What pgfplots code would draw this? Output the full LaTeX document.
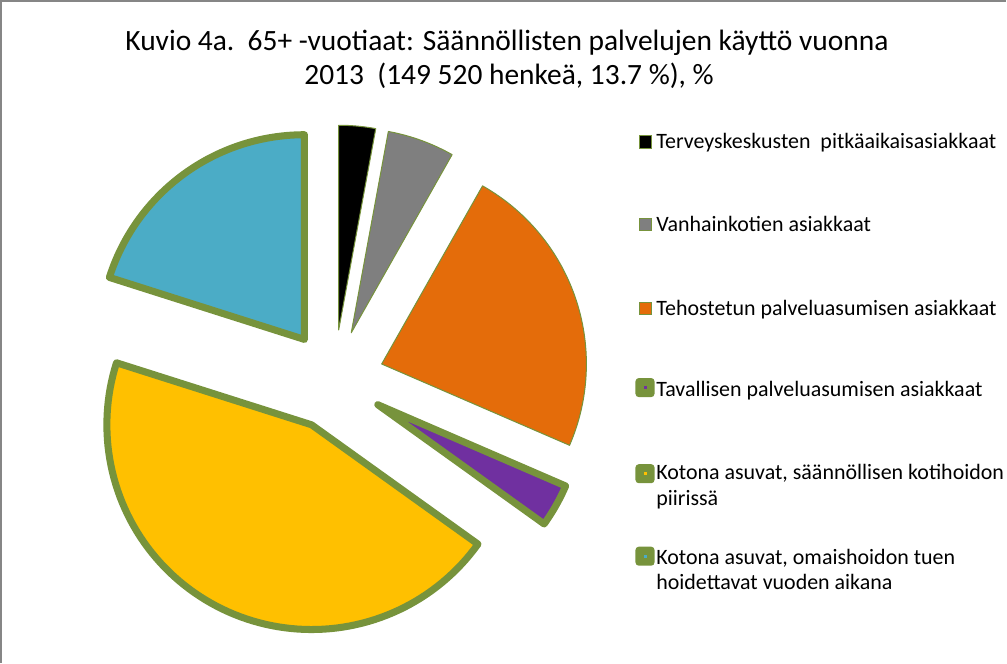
\documentclass[border=0pt]{standalone}
\usepackage{fontspec}
\setmainfont{Carlito}
\usepackage{pgfplots}
\usepackage{pgfplotstable}
\pgfplotsset{compat=1.18}

\definecolor{cgray}{RGB}{127,127,127}
\definecolor{corange}{RGB}{228,108,10}
\definecolor{cpurple}{RGB}{112,48,160}
\definecolor{cyellow}{RGB}{255,192,0}
\definecolor{cblue}{RGB}{75,172,198}
\definecolor{cgreen}{RGB}{119,147,60}
\definecolor{frame}{RGB}{134,134,134}

% share of each group (%), slice fill, border width in px
\pgfplotstableread{
value fillc lw
2.9  black   1
5.3  cgray   1
23.3 corange 1
3.4  cpurple 7
45.0 cyellow 7
20.1 cblue   7
}\piedata

% pie geometry in picture px (y up)
\def\cx{337.7}
\def\cy{281.6}
\def\pieR{204}
\def\expl{50}

\newcommand\drawslice[3]{%
  \pgfmathsetmacro\amid{(#1+#2)/2}%
  \pgfmathsetmacro\vx{\cx+\expl*cos(\amid)}%
  \pgfmathsetmacro\vy{\cy+\expl*sin(\amid)}%
  \edef\temp{\noexpand\addplot[#3, domain=#2:#1, samples=90]
    ({\vx+\pieR*cos(\noexpand\x)},{\vy+\pieR*sin(\noexpand\x)}) -- (axis cs:\vx,\vy) -- cycle;}%
  \temp}

\begin{document}
\begin{tikzpicture}
\begin{axis}[
    xmin=0, xmax=1007, ymin=0, ymax=666,
    width=755.25pt, height=499.5pt,
    scale only axis,
    axis lines=none,
    clip=false,
]
% frame
\draw[frame, line width=1.8pt] (axis cs:6,0) -- (axis cs:6,659) -- (axis cs:1007,659);

\def\cum{0}
\pgfplotsforeachungrouped \i in {0,...,5}{%
  \pgfplotstablegetelem{\i}{value}\of\piedata \let\val\pgfplotsretval
  \pgfplotstablegetelem{\i}{fillc}\of\piedata \let\fc\pgfplotsretval
  \pgfplotstablegetelem{\i}{lw}\of\piedata \let\lw\pgfplotsretval
  \pgfmathsetmacro\aS{90-3.6*\cum}%
  \pgfmathsetmacro\cum{\cum+\val}%
  \pgfmathsetmacro\aE{90-3.6*\cum}%
  \drawslice{\aS}{\aE}{fill=\fc, draw=cgreen, line width=\lw*0.75pt, line join=round}%
}

% title
\tikzset{tt/.style={anchor=base, font=\fontsize{22}{26}\selectfont, inner sep=0pt}}
\node[tt] at (axis cs:510,609.5)
  {Kuvio 4a.\ \ 65+ -vuotiaat: Säännöllisten palvelujen\ käyttö vuonna};
\node[tt] at (axis cs:512,576)
  {2013\ \ (149 520 henkeä, 13.7 \%), \%};

% legend
\tikzset{lt/.style={anchor=base west, font=\fontsize{16.4}{19}\selectfont, inner sep=0pt}}
\filldraw[fill=black, draw=cgreen, line width=0.6pt] (axis cs:642,512.7) rectangle (axis cs:654,525.3);
\node[lt] at (axis cs:658.5,512) {Terveyskeskusten\ \ pitkäaikaisasiakkaat};
\filldraw[fill=cgray, draw=cgreen, line width=0.6pt] (axis cs:642,431) rectangle (axis cs:654,443);
\node[lt] at (axis cs:658.5,429.2) {Vanhainkotien asiakkaat};
\filldraw[fill=corange, draw=cgreen, line width=0.6pt] (axis cs:642,347) rectangle (axis cs:654,359);
\node[lt] at (axis cs:658.5,346.3) {Tehostetun palveluasumisen asiakkaat};

\fill[cgreen, rounded corners=2.5pt] (axis cs:638,264.5) rectangle (axis cs:657,283.5);
\fill[cpurple] (axis cs:646,272.5) rectangle (axis cs:649,275.5);
\node[lt] at (axis cs:658.5,265) {Tavallisen palveluasumisen asiakkaat};

\fill[cgreen, rounded corners=2.5pt] (axis cs:638,178.7) rectangle (axis cs:657,197.7);
\fill[cyellow] (axis cs:646,186.7) rectangle (axis cs:649,189.7);
\node[lt] at (axis cs:658.5,182.1) {Kotona asuvat, säännöllisen kotihoidon};
\node[lt] at (axis cs:658.5,156.7) {piirissä};

\fill[cgreen, rounded corners=2.5pt] (axis cs:638,96.5) rectangle (axis cs:657,115.5);
\fill[cblue] (axis cs:646,104.5) rectangle (axis cs:649,107.5);
\node[lt] at (axis cs:658.5,97.5) {Kotona asuvat, omaishoidon tuen};
\node[lt] at (axis cs:658.5,72.7) {hoidettavat vuoden aikana};
\end{axis}
\end{tikzpicture}
\end{document}
